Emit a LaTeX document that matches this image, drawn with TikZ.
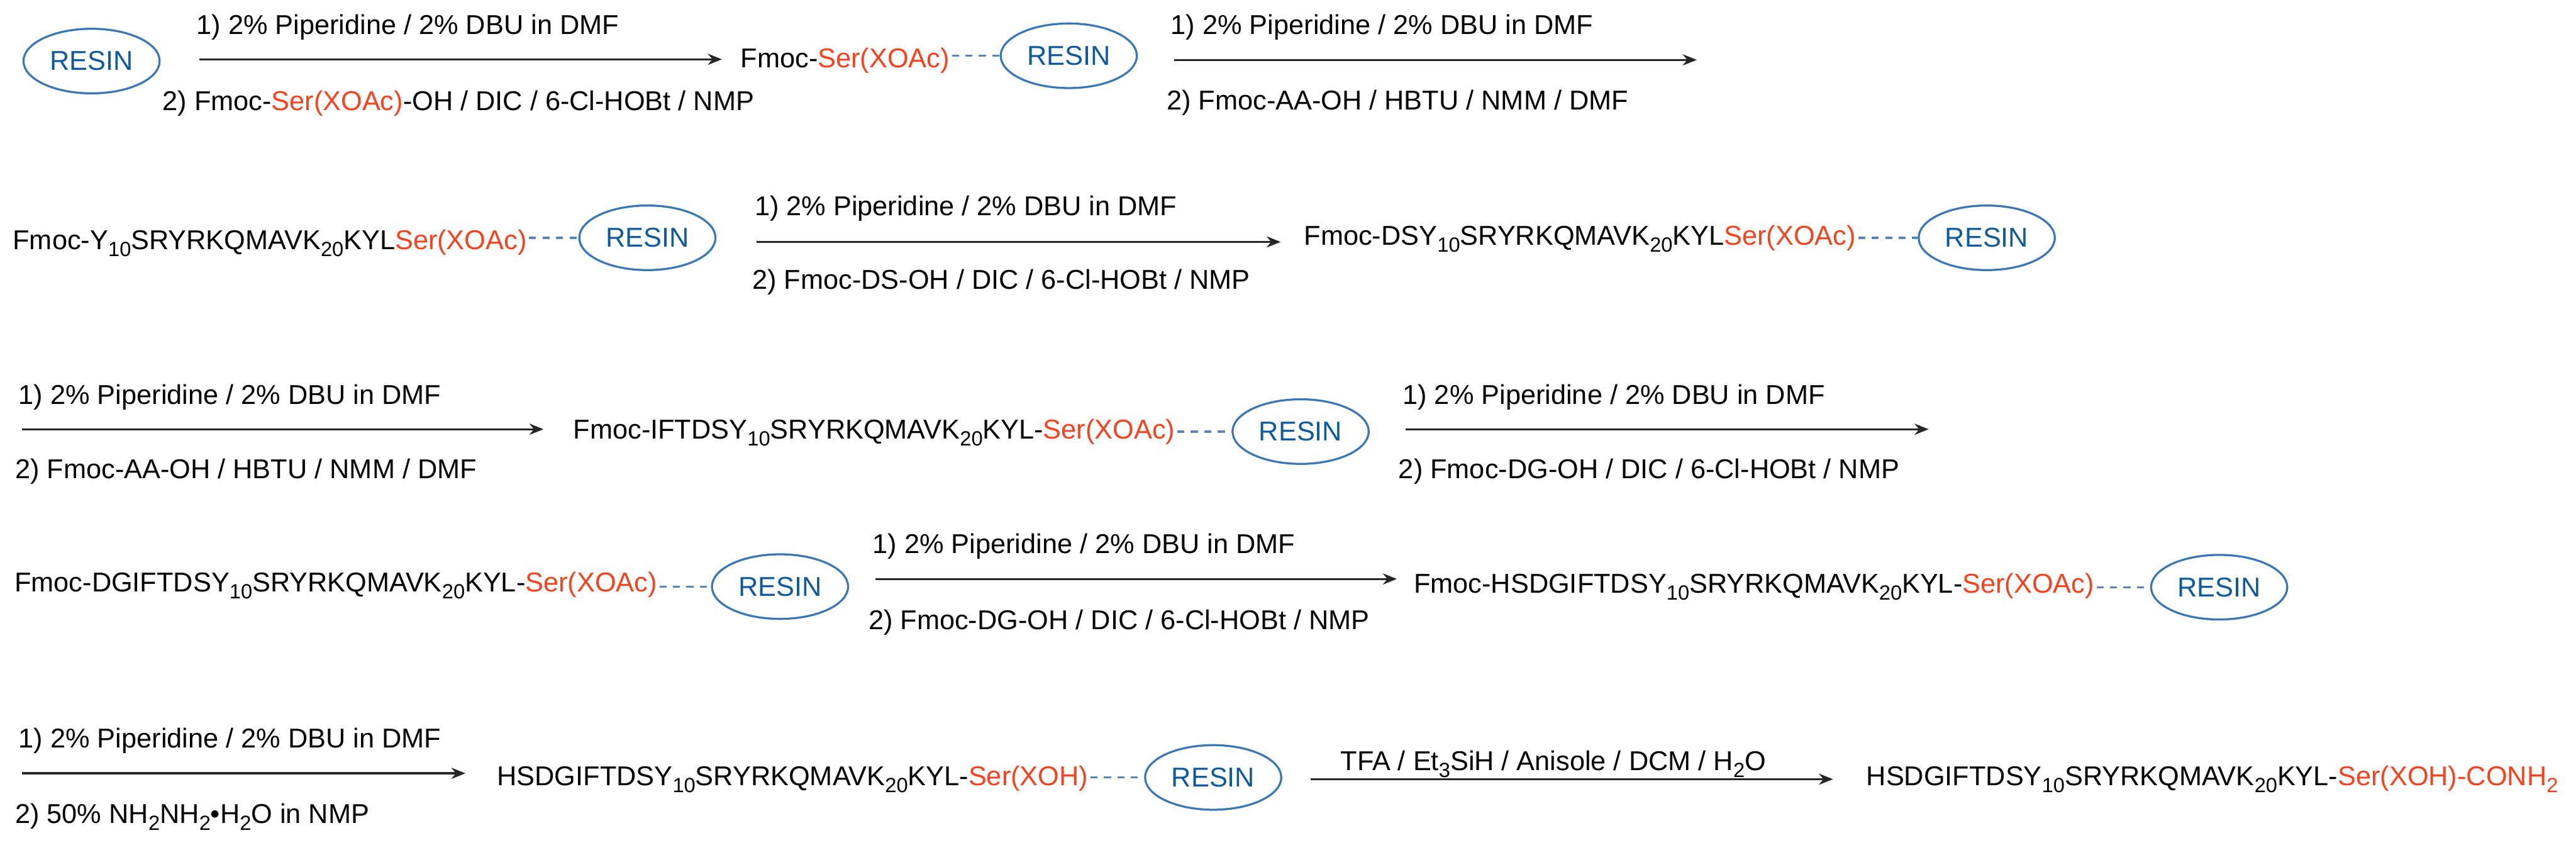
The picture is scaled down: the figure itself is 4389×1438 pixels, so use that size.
\documentclass[tikz,border=0pt]{standalone}
\usepackage{fontspec}
\usetikzlibrary{shapes.geometric,arrows.meta}
\setmainfont{Liberation Sans}
\definecolor{redser}{HTML}{F4431F}
\definecolor{resinblue}{HTML}{0F5A9E}
\definecolor{rimblue}{HTML}{3A78B5}
\definecolor{dashblue}{HTML}{5A84B8}
\newcommand{\sbs}[1]{\raisebox{-12pt}{\fontsize{35}{35}\selectfont #1}}
\newcommand{\rd}[1]{\textcolor{redser}{#1}}
\tikzset{
  x=1pt,y=-1pt,
  txt/.style={anchor=base west,inner sep=0pt,outer sep=0pt,font=\fontsize{46.4}{50}\selectfont,text=black},
  resin/.style={ellipse,draw=rimblue,line width=3.5pt,minimum width=232pt,minimum height=110pt,inner sep=0pt,font=\fontsize{46.4}{50}\selectfont,text=resinblue},
  link/.style={draw=dashblue,line width=3.5pt,dash pattern=on 12pt off 11pt},
  rxn/.style={draw=black!85,line width=3.5pt,-{Stealth[length=24pt,width=19pt]}}
}
\newcommand{\stdA}{1) 2\% Piperidine / 2\% DBU in DMF}
\begin{document}
\begin{tikzpicture}
\useasboundingbox (0,0) rectangle (4389,1438);
% row 1
\node[resin] (r0) at (156,104) {RESIN};
\node[txt] (t1a) at (335,58) {\stdA};
\node[txt] (t1b) at (277,188) {2) Fmoc-\rd{Ser(XOAc)}-OH / DIC / 6-Cl-HOBt / NMP};
\coordinate (a1s) at (340,101); \coordinate (a1e) at (1230,101);
\draw[rxn] (a1s) -- (a1e);
\node[txt] (p1) at (1262,115) {Fmoc-\rd{Ser(XOAc)}};
\node[resin] (r1) at (1821,95) {RESIN};
\draw[link] ([xshift=4pt]p1.east |- r1) -- (r1);
\node[txt] (t2a) at (1995,58) {\stdA};
\node[txt] (t2b) at (1988,187) {2) Fmoc-AA-OH / HBTU / NMM / DMF};
\coordinate (a2s) at (2000,102); \coordinate (a2e) at (2891,102);
\draw[rxn] (a2s) -- (a2e);
% row 2
\node[txt] (p2) at (22,425) {Fmoc-Y\sbs{10}SRYRKQMAVK\sbs{20}KYL\rd{Ser(XOAc)}};
\node[resin] (r2) at (1103,405) {RESIN};
\draw[link] ([xshift=4pt]p2.east |- r2) -- (r2);
\node[txt] (t3a) at (1286,367) {\stdA};
\node[txt] (t3b) at (1282,492) {2) Fmoc-DS-OH / DIC / 6-Cl-HOBt / NMP};
\coordinate (a3s) at (1289,412); \coordinate (a3e) at (2182,412);
\draw[rxn] (a3s) -- (a3e);
\node[txt] (p3) at (2222,417) {Fmoc-DSY\sbs{10}SRYRKQMAVK\sbs{20}KYL\rd{Ser(XOAc)}};
\node[resin] (r3) at (3385,405) {RESIN};
\draw[link] ([xshift=4pt]p3.east |- r3) -- (r3);
% row 3
\node[txt] (t4a) at (32,688) {\stdA};
\node[txt] (t4b) at (26,815) {2) Fmoc-AA-OH / HBTU / NMM / DMF};
\coordinate (a4s) at (37,731); \coordinate (a4e) at (926,731);
\draw[rxn] (a4s) -- (a4e);
\node[txt] (p4) at (977,747) {Fmoc-IFTDSY\sbs{10}SRYRKQMAVK\sbs{20}KYL-\rd{Ser(XOAc)}};
\node[resin] (r4) at (2216,735) {RESIN};
\draw[link] ([xshift=4pt]p4.east |- r4) -- (r4);
\node[txt] (t5a) at (2390,688) {\stdA};
\node[txt] (t5b) at (2383,815) {2) Fmoc-DG-OH / DIC / 6-Cl-HOBt / NMP};
\coordinate (a5s) at (2395,731); \coordinate (a5e) at (3286,731);
\draw[rxn] (a5s) -- (a5e);
% row 4
\node[txt] (p5) at (25,1008) {Fmoc-DGIFTDSY\sbs{10}SRYRKQMAVK\sbs{20}KYL-\rd{Ser(XOAc)}};
\node[resin] (r5) at (1329,999) {RESIN};
\draw[link] ([xshift=4pt]p5.east |- r5) -- (r5);
\node[txt] (t6a) at (1487,942) {\stdA};
\node[txt] (t6b) at (1480,1072) {2) Fmoc-DG-OH / DIC / 6-Cl-HOBt / NMP};
\coordinate (a6s) at (1492,986); \coordinate (a6e) at (2380,986);
\draw[rxn] (a6s) -- (a6e);
\node[txt] (p6) at (2409,1010) {Fmoc-HSDGIFTDSY\sbs{10}SRYRKQMAVK\sbs{20}KYL-\rd{Ser(XOAc)}};
\node[resin] (r6) at (3781,1000) {RESIN};
\draw[link] ([xshift=4pt]p6.east |- r6) -- (r6);
% row 5
\node[txt] (t7a) at (32,1273) {\stdA};
\node[txt] (t7b) at (26,1402) {2) 50\% NH\sbs{2}NH\sbs{2}•H\sbs{2}O in NMP};
\coordinate (a7s) at (37,1317); \coordinate (a7e) at (793,1317);
\draw[rxn] (a7s) -- (a7e);
\node[txt] (p7) at (847,1338) {HSDGIFTDSY\sbs{10}SRYRKQMAVK\sbs{20}KYL-\rd{Ser(XOH)}};
\node[resin] (r7) at (2067,1324) {RESIN};
\draw[link] ([xshift=4pt]p7.east |- r7) -- (r7);
\node[txt] (t8) at (2284,1312) {TFA / Et\sbs{3}SiH / Anisole / DCM / H\sbs{2}O};
\coordinate (a8s) at (2233,1327); \coordinate (a8e) at (3123,1327);
\draw[rxn] (a8s) -- (a8e);
\node[txt] (p8) at (3180,1338) {HSDGIFTDSY\sbs{10}SRYRKQMAVK\sbs{20}KYL-\rd{Ser(XOH)-CONH\sbs{2}}};
\end{tikzpicture}
\end{document}
